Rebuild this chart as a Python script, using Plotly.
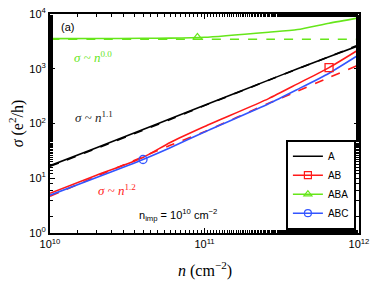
import plotly.graph_objects as go

# carrier density (cm^-2)
n = [1e10, 2e10, 4e10, 6e10, 1e11, 2.6e11, 4e11, 6.4e11, 1e12]

sigma_A = [17, 36, 78, 122, 215, 620, 1000, 1650, 2650]
sigma_A_fit = [16.5, 35, 75, 118, 212, 615, 995, 1660, 2750]
sigma_AB = [5.3, 11.3, 24, 45, 88, 285, 530, 1050, 2250]
sigma_AB_fit = [4.7, 10.8, 24.8, 40, 71, 234, 390, 690, 1180]
sigma_ABA = [3550, 3560, 3600, 3620, 3750, 4650, 5200, 6800, 8500]
sigma_ABA_fit = [3450, 3450, 3450, 3450, 3450, 3450, 3450, 3450, 3450]
sigma_ABC = [4.9, 10.3, 22, 36, 70, 230, 420, 830, 1800]

# marker positions
mk_AB = ([6.4e11], [1050])
mk_ABA = ([9e10], [3730])
mk_ABC = ([4e10], [22])

xtick_vals = [1e10, 1e11, 1e12]
xtick_text = ["10<sup>10</sup>", "10<sup>11</sup>", "10<sup>12</sup>"]
ytick_vals = [1, 10, 100, 1000, 10000]
ytick_text = ["10<sup>0</sup>", "10<sup>1</sup>", "10<sup>2</sup>", "10<sup>3</sup>", "10<sup>4</sup>"]

BLACK = "#000000"
RED = "#ff1a1a"
GREEN = "#66e61a"
BLUE = "#3355ff"

fig = go.Figure()

def line(y, color, dash="solid", width=1.6):
    fig.add_trace(go.Scatter(x=n, y=y, mode="lines", showlegend=False,
                             line=dict(color=color, width=width, dash=dash,
                                       shape="spline", smoothing=0.6)))

line(sigma_ABA_fit, GREEN, "dash")
line(sigma_ABA, GREEN)
line(sigma_A_fit, BLACK, "dash")
line(sigma_A, BLACK)
line(sigma_AB_fit, RED, "dash")
line(sigma_AB, RED)
line(sigma_ABC, BLUE)

def mark(xy, color, symbol):
    fig.add_trace(go.Scatter(x=xy[0], y=xy[1], mode="markers", showlegend=False,
                             marker=dict(symbol=symbol, size=8, color=color,
                                         line=dict(color=color, width=1.3))))

mark(mk_AB, RED, "square-open")
mark(mk_ABA, GREEN, "triangle-up-open")
mark(mk_ABC, BLUE, "circle-open")

# legend entries
for name, color, sym, mode in [("A", BLACK, "circle", "lines"),
                               ("AB", RED, "square-open", "lines+markers"),
                               ("ABA", GREEN, "triangle-up-open", "lines+markers"),
                               ("ABC", BLUE, "circle-open", "lines+markers")]:
    fig.add_trace(go.Scatter(x=[None], y=[None], mode=mode, name=name,
                             line=dict(color=color, width=1.6),
                             marker=dict(symbol=sym, size=7, color=color,
                                         line=dict(color=color, width=1.2))))

axis_common = dict(type="log", showgrid=False, zeroline=False, mirror="allticks",
                   showline=True, linecolor="black", linewidth=2, automargin=False,
                   ticks="inside", ticklen=5, tickcolor="black", tickwidth=1,
                   minor=dict(ticks="inside", ticklen=3, tickcolor="black", showgrid=False),
                   tickfont=dict(family="Liberation Sans", size=11, color="black"))

fig.update_xaxes(**axis_common, range=[10, 12], tickvals=xtick_vals, ticktext=xtick_text)
fig.update_yaxes(**axis_common, range=[0, 4], tickvals=ytick_vals, ticktext=ytick_text,
                 title=dict(text="<i>σ</i> (e<sup>2</sup>/h)",
                            font=dict(family="Liberation Serif", size=16, color="black"),
                            standoff=2))

# x-axis title
fig.add_annotation(xref="paper", yref="paper", x=0.5, y=-0.165, showarrow=False,
                   xanchor="center", yanchor="middle",
                   text="<i>n</i> (cm<sup>−2</sup>)",
                   font=dict(family="Liberation Serif", size=16, color="black"))

serif = "Liberation Serif"
anns = [
    dict(x=10.06, y=3.76, text="(a)", font=dict(family="Liberation Sans", size=11, color="black")),
    dict(x=10.14, y=3.22, text="<i>σ</i> ~ <i>n</i><sup>0.0</sup>", font=dict(family=serif, size=13, color=GREEN)),
    dict(x=10.15, y=2.12, text="<i>σ</i> ~ <i>n</i><sup>1.1</sup>", font=dict(family=serif, size=13, color="#222222")),
    dict(x=10.30, y=0.78, text="<i>σ</i> ~ <i>n</i><sup>1.2</sup>", font=dict(family=serif, size=13, color=RED)),
    dict(x=10.56, y=0.33, text="n<sub>imp</sub> = 10<sup>10</sup> cm<sup>−2</sup>",
         font=dict(family="Liberation Sans", size=11, color="black")),
]
for a in anns:
    fig.add_annotation(xref="x", yref="y", showarrow=False, xanchor="left", yanchor="middle", **a)

fig.update_layout(
    width=374, height=281,
    margin=dict(l=50, r=15, t=14, b=48, autoexpand=False),
    paper_bgcolor="white", plot_bgcolor="white",
    legend=dict(x=0.99, y=0.015, xanchor="right", yanchor="bottom",
                bgcolor="white", bordercolor="black", borderwidth=2,
                font=dict(family="Liberation Sans", size=10, color="black"),
                tracegroupgap=0, itemwidth=30),
)

fig.write_html("out.html", config={"displayModeBar": False},
               post_script="document.body.style.margin='0px';document.body.style.overflow='hidden';")
